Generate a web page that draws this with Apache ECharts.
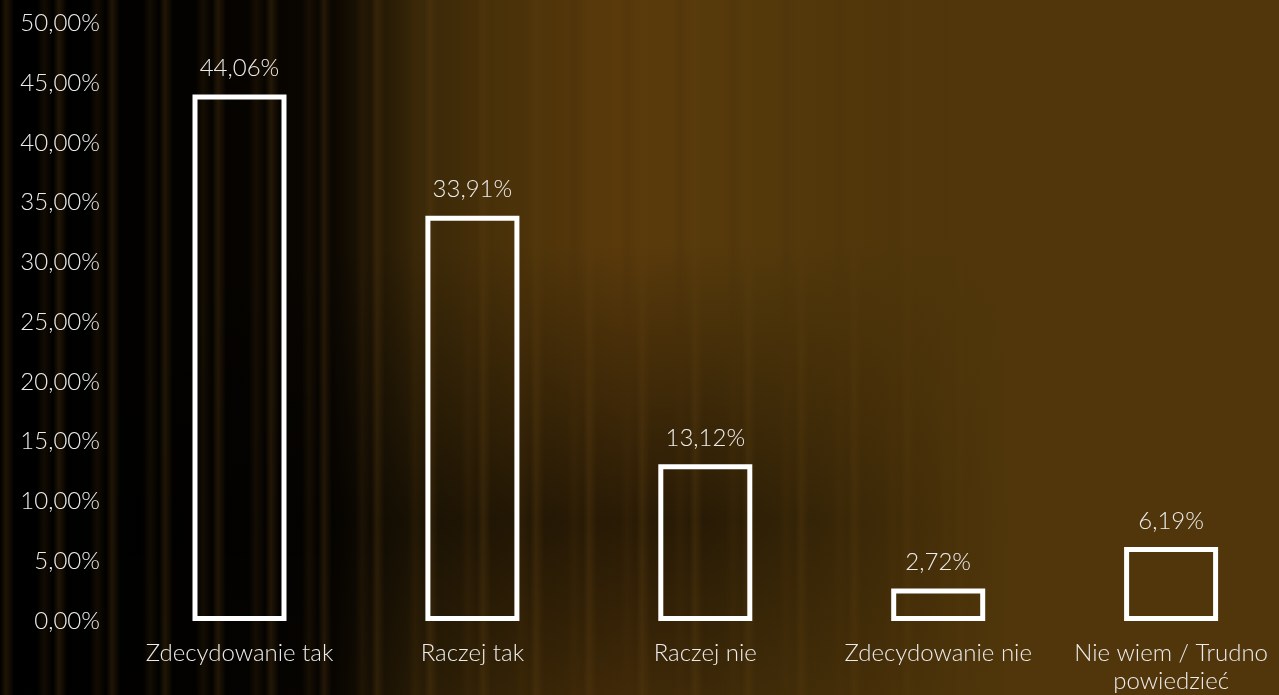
<!DOCTYPE html>
<html>
<head>
<meta charset="utf-8">
<script src="https://cdn.jsdelivr.net/npm/echarts@6/dist/echarts.min.js"></script>
<style>
html,body{margin:0;padding:0;width:1279px;height:695px;overflow:hidden;}
#bg{position:absolute;left:0;top:0;width:1279px;height:695px;
background:
 linear-gradient(90deg, rgba(0,0,0,0) 0px, rgba(0,0,0,0) 1028px, rgba(40,20,0,0.7) 1034px, rgba(0,0,0,0) 1040px),
 repeating-linear-gradient(90deg, rgba(90,60,15,0.0) 0px, rgba(90,60,15,0.35) 6px, rgba(0,0,0,0) 14px, rgba(0,0,0,0) 37px, rgba(70,45,10,0.25) 44px, rgba(0,0,0,0) 53px),
 linear-gradient(180deg, rgba(0,0,0,0) 0%, rgba(0,0,0,0) 35%, rgba(0,0,0,0.55) 75%, rgba(0,0,0,0.3) 100%),
 linear-gradient(90deg, #000 0px, #020100 150px, #0a0601 330px, #3a2808 420px, #4d3309 520px, #5a3a0b 620px, #553a0b 760px, #4f3509 900px, #50360a 1279px);
}
#mask{position:absolute;left:0;top:0;width:1279px;height:695px;
background: linear-gradient(90deg, rgba(0,0,0,0) 0px, rgba(0,0,0,0) 700px, #50360a 1010px, #50360a 1279px);
}
#chart{position:absolute;left:0;top:0;width:1279px;height:695px;}
</style>
</head>
<body>
<div id="bg"></div>
<div id="mask"></div>
<div id="chart"></div>
<script>
const categories = ['Zdecydowanie tak', 'Raczej tak', 'Raczej nie', 'Zdecydowanie nie', 'Nie wiem / Trudno\npowiedzieć'];
const values = [44.06, 33.91, 13.12, 2.72, 6.19];
const yTicks = [0, 5, 10, 15, 20, 25, 30, 35, 40, 45, 50];

const fmt = v => v.toFixed(2).replace('.', ',') + '%';
const FONT = 'Lato';
const FS = 24;

const chart = echarts.init(document.getElementById('chart'), null, {renderer: 'canvas'});
chart.setOption({
  backgroundColor: 'transparent',
  animation: false,
  grid: {left: 239.5, right: 107.9, top: 23.4, bottom: 73.3, containLabel: false},
  xAxis: {
    type: 'category',
    data: categories,
    boundaryGap: false,
    axisLine: {show: false},
    axisTick: {show: false},
    axisLabel: {color: '#ececec', fontFamily: FONT, fontWeight: 300, fontSize: FS, margin: 18, lineHeight: 28, interval: 0}
  },
  yAxis: {
    type: 'value',
    min: yTicks[0],
    max: yTicks[yTicks.length - 1],
    interval: yTicks[1] - yTicks[0],
    splitLine: {show: false},
    axisLine: {show: false},
    axisTick: {show: false},
    axisLabel: {color: '#ececec', fontFamily: FONT, fontWeight: 300, fontSize: FS, margin: 139.5, formatter: v => fmt(v)}
  },
  series: [{
    type: 'bar',
    data: values,
    barWidth: 94,
    itemStyle: {color: 'transparent', borderColor: '#ffffff', borderWidth: 5},
    label: {show: true, position: 'top', distance: 14, color: '#ececec', fontFamily: FONT, fontWeight: 300, fontSize: FS, formatter: p => fmt(p.value)}
  }]
});
</script>
</body>
</html>
